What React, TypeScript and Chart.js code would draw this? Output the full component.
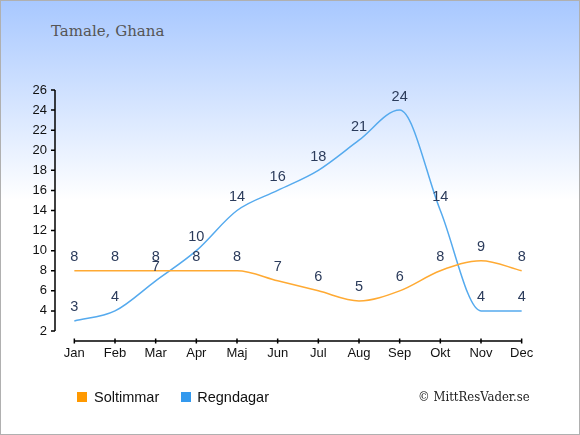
import { useEffect, useRef } from 'react';
import { Chart, registerables } from 'chart.js';

Chart.register(...registerables);

const months = ['Jan', 'Feb', 'Mar', 'Apr', 'Maj', 'Jun', 'Jul', 'Aug', 'Sep', 'Okt', 'Nov', 'Dec'];
const soltimmar = [8, 8, 8, 8, 8, 7, 6, 5, 6, 8, 9, 8];
const regndagar = [3, 4, 7, 10, 14, 16, 18, 21, 24, 14, 4, 4];
const yTicks = [2, 4, 6, 8, 10, 12, 14, 16, 18, 20, 22, 24, 26];

const ORANGE = '#ff9900';
const ORANGE_LINE = '#ffaa33';
const BLUE = '#3399ee';
const BLUE_LINE = '#55aaee';

// axis lines + tick marks, drawn off the scales (y axis stands apart from x axis)
const axesPlugin = {
  id: 'axes',
  afterDraw(chart: any) {
    const ctx = chart.ctx;
    const x = chart.scales.x;
    const y = chart.scales.y;
    const left = chart.chartArea.left + 1;
    const axisY = chart.chartArea.bottom + 10;
    ctx.save();
    ctx.strokeStyle = '#000';
    ctx.lineWidth = 1.5;
    ctx.beginPath();
    ctx.moveTo(left, y.getPixelForValue(yTicks[0]));
    ctx.lineTo(left, y.getPixelForValue(yTicks[yTicks.length - 1]));
    yTicks.forEach((v) => {
      const py = y.getPixelForValue(v);
      ctx.moveTo(left - 4, py);
      ctx.lineTo(left, py);
    });
    const x0 = x.getPixelForValue(0);
    const x1 = x.getPixelForValue(months.length - 1);
    ctx.moveTo(x0, axisY);
    ctx.lineTo(x1, axisY);
    months.forEach((_, i) => {
      const px = x.getPixelForValue(i);
      ctx.moveTo(px, axisY - 2.5);
      ctx.lineTo(px, axisY + 2.5);
    });
    ctx.stroke();
    ctx.restore();
  },
};

// value labels above each point
const valueLabels = {
  id: 'valueLabels',
  afterDatasetsDraw(chart: any) {
    const ctx = chart.ctx;
    ctx.save();
    ctx.font = '14.5px "Liberation Sans", Arial, sans-serif';
    ctx.fillStyle = '#2b3b5b';
    ctx.textAlign = 'center';
    ctx.textBaseline = 'middle';
    chart.data.datasets.forEach((ds: any, i: number) => {
      const meta = chart.getDatasetMeta(i);
      meta.data.forEach((pt: any, j: number) => {
        ctx.fillText(String(ds.data[j]), pt.x, pt.y - 13.5);
      });
    });
    ctx.restore();
  },
};

function ClimateChart() {
  const chartRef = useRef<HTMLCanvasElement>(null);
  const chartInstance = useRef<Chart | null>(null);

  useEffect(() => {
    if (!chartRef.current) return;
    if (chartInstance.current) chartInstance.current.destroy();

    chartInstance.current = new Chart(chartRef.current, {
      type: 'line',
      data: {
        labels: months,
        datasets: [
          {
            label: 'Soltimmar',
            data: soltimmar,
            borderColor: ORANGE_LINE,
            backgroundColor: ORANGE,
            borderWidth: 1.5,
            pointRadius: 0,
            cubicInterpolationMode: 'monotone',
          },
          {
            label: 'Regndagar',
            data: regndagar,
            borderColor: BLUE_LINE,
            backgroundColor: BLUE,
            borderWidth: 1.5,
            pointRadius: 0,
            cubicInterpolationMode: 'monotone',
          },
        ],
      },
      options: {
        responsive: false,
        animation: false,
        devicePixelRatio: 1,
        layout: { padding: { top: 90, right: 38, left: 0, bottom: 0 } },
        plugins: {
          legend: { display: false },
          title: { display: false },
          tooltip: { enabled: false },
        },
        scales: {
          x: {
            offset: true,
            grid: { display: false, drawTicks: false },
            border: { display: false },
            ticks: {
              padding: 15,
              color: '#111',
              font: { size: 13, family: '"Liberation Sans", Arial, sans-serif' },
              maxRotation: 0,
              autoSkip: false,
            },
            afterFit: (scale: any) => {
              scale.height = 104;
            },
          },
          y: {
            min: 2,
            max: 26,
            grid: { display: false, drawTicks: false },
            border: { display: false },
            ticks: {
              stepSize: 2,
              padding: 7,
              color: '#111',
              font: { size: 13, family: '"Liberation Sans", Arial, sans-serif' },
            },
            afterFit: (scale: any) => {
              scale.width = 54;
            },
          },
        },
      },
      plugins: [axesPlugin, valueLabels],
    });

    return () => {
      if (chartInstance.current) {
        chartInstance.current.destroy();
        chartInstance.current = null;
      }
    };
  }, []);

  return <canvas ref={chartRef} width={580} height={435} style={{ position: 'absolute', top: -1, left: -1 }} />;
}

export default function App() {
  const sans = '"Liberation Sans", Arial, sans-serif';
  return (
    <div
      style={{
        position: 'fixed',
        top: 0,
        left: 0,
        width: 580,
        height: 435,
        boxSizing: 'border-box',
        border: '1px solid #b0b0b0',
        background: 'linear-gradient(to bottom, #a8c8ff 0%, #ffffff 46%, #ffffff 100%)',
        overflow: 'hidden',
      }}
    >
      <div
        style={{
          position: 'absolute',
          left: 50,
          top: 21,
          fontFamily: '"DejaVu Serif", serif',
          fontSize: 15,
          color: '#555',
          whiteSpace: 'nowrap',
        }}
      >
        Tamale, Ghana
      </div>
      <ClimateChart />
      <div
        style={{
          position: 'absolute',
          left: 76,
          top: 388,
          fontFamily: sans,
          fontSize: 14.5,
          color: '#111',
          display: 'flex',
          alignItems: 'center',
          whiteSpace: 'nowrap',
        }}
      >
        <span style={{ width: 10, height: 10, background: ORANGE, marginRight: 7 }} />
        <span style={{ marginRight: 22 }}>Soltimmar</span>
        <span style={{ width: 10, height: 10, background: BLUE, marginRight: 6 }} />
        <span>Regndagar</span>
      </div>
      <div
        style={{
          position: 'absolute',
          left: 417,
          top: 388,
          fontFamily: '"DejaVu Serif Condensed", "DejaVu Serif", serif',
          fontStretch: 'condensed',
          fontSize: 13,
          color: '#222',
          whiteSpace: 'nowrap',
        }}
      >
        © MittResVader.se
      </div>
    </div>
  );
}
